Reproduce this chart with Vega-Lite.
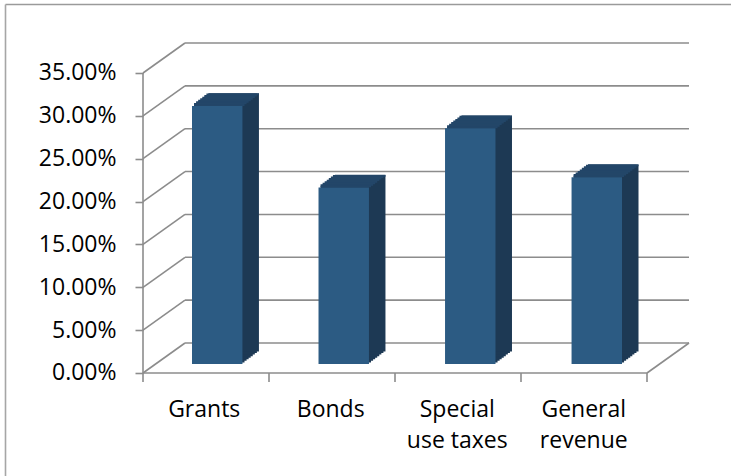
{
  "$schema": "https://vega.github.io/schema/vega-lite/v6.json",
  "width": 726,
  "height": 472,
  "autosize": {"type": "none"},
  "padding": {"left": 5, "top": 4, "right": 0, "bottom": 0},
  "background": "#ffffff",
  "config": {"view": {"stroke": null}, "font": "Open Sans"},
  "datasets": {
    "shares": [
      {"category": "Grants", "value": 0.301},
      {"category": "Bonds", "value": 0.206},
      {"category": "Special use taxes", "value": 0.275},
      {"category": "General revenue", "value": 0.218}
    ],
    "levels": [{"v": 0}, {"v": 0.05}, {"v": 0.1}, {"v": 0.15}, {"v": 0.2}, {"v": 0.25}, {"v": 0.3}, {"v": 0.35}],
    "bounds": [{"b": 0}, {"b": 1}, {"b": 2}, {"b": 3}, {"b": 4}],
    "single": [{"one": 1}]
  },
  "layer": [
    {
      "layer": [
        {
          "data": {"name": "levels"},
          "mark": {"type": "rule", "color": "#8c8c8c", "strokeWidth": 1.6, "xOffset": 42, "x2Offset": 42, "yOffset": -30},
          "encoding": {
            "x": {"datum": 0, "type": "quantitative", "scale": {"domain": [-1.09524, 4.66667], "nice": false, "zero": false}, "axis": {"orient": "top", "offset": 0, "domain": true, "domainColor": "#9a9a9a", "domainWidth": 1.6, "ticks": false, "labels": false, "grid": false, "title": null}},
            "x2": {"datum": 4},
            "y": {"field": "v", "type": "quantitative", "scale": {"domain": [-0.12017, 0.4305], "nice": false, "zero": false}, "axis": {"orient": "left", "offset": 0, "domain": true, "domainColor": "#a6a6a6", "domainWidth": 1.6, "ticks": false, "labels": false, "grid": false, "title": null}}
          }
        },
        {
          "data": {"name": "levels"},
          "mark": {"type": "rule", "color": "#8c8c8c", "strokeWidth": 1.6, "x2Offset": 42, "y2Offset": -30},
          "encoding": {
            "x": {"datum": 0, "type": "quantitative", "scale": {"domain": [-1.09524, 4.66667], "nice": false, "zero": false}, "axis": {"orient": "top", "offset": 0, "domain": true, "domainColor": "#9a9a9a", "domainWidth": 1.6, "ticks": false, "labels": false, "grid": false, "title": null}},
            "x2": {"datum": 0},
            "y": {"field": "v", "type": "quantitative", "scale": {"domain": [-0.12017, 0.4305], "nice": false, "zero": false}, "axis": {"orient": "left", "offset": 0, "domain": true, "domainColor": "#a6a6a6", "domainWidth": 1.6, "ticks": false, "labels": false, "grid": false, "title": null}},
            "y2": {"field": "v"}
          }
        },
        {
          "data": {"name": "single"},
          "mark": {"type": "rule", "color": "#8c8c8c", "strokeWidth": 1.6},
          "encoding": {
            "x": {"datum": 0, "type": "quantitative", "scale": {"domain": [-1.09524, 4.66667], "nice": false, "zero": false}, "axis": {"orient": "top", "offset": 0, "domain": true, "domainColor": "#9a9a9a", "domainWidth": 1.6, "ticks": false, "labels": false, "grid": false, "title": null}},
            "x2": {"datum": 4},
            "y": {"datum": 0, "type": "quantitative", "scale": {"domain": [-0.12017, 0.4305], "nice": false, "zero": false}, "axis": {"orient": "left", "offset": 0, "domain": true, "domainColor": "#a6a6a6", "domainWidth": 1.6, "ticks": false, "labels": false, "grid": false, "title": null}}
          }
        },
        {
          "data": {"name": "single"},
          "mark": {"type": "rule", "color": "#8c8c8c", "strokeWidth": 1.6, "x2Offset": 42, "y2Offset": -30},
          "encoding": {
            "x": {"datum": 4, "type": "quantitative", "scale": {"domain": [-1.09524, 4.66667], "nice": false, "zero": false}, "axis": {"orient": "top", "offset": 0, "domain": true, "domainColor": "#9a9a9a", "domainWidth": 1.6, "ticks": false, "labels": false, "grid": false, "title": null}},
            "x2": {"datum": 4},
            "y": {"datum": 0, "type": "quantitative", "scale": {"domain": [-0.12017, 0.4305], "nice": false, "zero": false}, "axis": {"orient": "left", "offset": 0, "domain": true, "domainColor": "#a6a6a6", "domainWidth": 1.6, "ticks": false, "labels": false, "grid": false, "title": null}},
            "y2": {"datum": 0}
          }
        },
        {
          "data": {"name": "single"},
          "mark": {"type": "rule", "color": "#8c8c8c", "strokeWidth": 1.6},
          "encoding": {
            "x": {"datum": 0, "type": "quantitative", "scale": {"domain": [-1.09524, 4.66667], "nice": false, "zero": false}, "axis": {"orient": "top", "offset": 0, "domain": true, "domainColor": "#9a9a9a", "domainWidth": 1.6, "ticks": false, "labels": false, "grid": false, "title": null}},
            "y": {"datum": 0, "type": "quantitative", "scale": {"domain": [-0.12017, 0.4305], "nice": false, "zero": false}, "axis": {"orient": "left", "offset": 0, "domain": true, "domainColor": "#a6a6a6", "domainWidth": 1.6, "ticks": false, "labels": false, "grid": false, "title": null}},
            "y2": {"datum": 0.35}
          }
        },
        {
          "data": {"name": "bounds"},
          "mark": {"type": "rule", "color": "#8c8c8c", "strokeWidth": 1.6, "y2Offset": 9},
          "encoding": {
            "x": {"field": "b", "type": "quantitative", "scale": {"domain": [-1.09524, 4.66667], "nice": false, "zero": false}, "axis": {"orient": "top", "offset": 0, "domain": true, "domainColor": "#9a9a9a", "domainWidth": 1.6, "ticks": false, "labels": false, "grid": false, "title": null}},
            "y": {"datum": 0, "type": "quantitative", "scale": {"domain": [-0.12017, 0.4305], "nice": false, "zero": false}, "axis": {"orient": "left", "offset": 0, "domain": true, "domainColor": "#a6a6a6", "domainWidth": 1.6, "ticks": false, "labels": false, "grid": false, "title": null}},
            "y2": {"datum": 0}
          }
        }
      ]
    },
    {
      "data": {"name": "shares"},
      "encoding": {
        "x": {"field": "category", "type": "nominal", "sort": null, "scale": {"type": "band", "range": [187, 617], "paddingInner": 0.6013, "paddingOuter": 0}, "axis": {"orient": "bottom", "offset": -103, "domain": false, "ticks": false, "grid": false, "title": null, "labelAngle": 0, "labelOffset": -13, "labelPadding": 25, "labelFont": "Open Sans", "labelFontSize": 23, "labelColor": "#000000", "labelLineHeight": 31, "labelBaseline": "top", "labelExpr": "indexof(datum.label, ' ') > 0 ? [substring(datum.label, 0, indexof(datum.label, ' ')), substring(datum.label, indexof(datum.label, ' ') + 1)] : datum.label"}},
        "y": {"field": "value", "type": "quantitative", "scale": {"domain": [-0.12017, 0.4305], "nice": false, "zero": false}, "axis": {"orient": "left", "offset": -138, "values": [0, 0.05, 0.1, 0.15, 0.2, 0.25, 0.3, 0.35], "format": ".2%", "tickSize": 8, "tickColor": "#8c8c8c", "tickWidth": 1.6, "domain": false, "grid": false, "title": null, "labelFont": "Open Sans", "labelFontSize": 23, "labelColor": "#000000", "labelPadding": 19}}
      },
      "layer": [
        {"mark": {"type": "bar", "color": "#1d3954", "xOffset": 2.0625, "yOffset": -10.5625, "y2Offset": -10.5625}, "encoding": {"y2": {"datum": 0}}},
        {"mark": {"type": "bar", "color": "#1d3954", "xOffset": 4.125, "yOffset": -12.125, "y2Offset": -12.125}, "encoding": {"y2": {"datum": 0}}},
        {"mark": {"type": "bar", "color": "#1d3954", "xOffset": 6.1875, "yOffset": -13.6875, "y2Offset": -13.6875}, "encoding": {"y2": {"datum": 0}}},
        {"mark": {"type": "bar", "color": "#1d3954", "xOffset": 8.25, "yOffset": -15.25, "y2Offset": -15.25}, "encoding": {"y2": {"datum": 0}}},
        {"mark": {"type": "bar", "color": "#1d3954", "xOffset": 10.3125, "yOffset": -16.8125, "y2Offset": -16.8125}, "encoding": {"y2": {"datum": 0}}},
        {"mark": {"type": "bar", "color": "#1d3954", "xOffset": 12.375, "yOffset": -18.375, "y2Offset": -18.375}, "encoding": {"y2": {"datum": 0}}},
        {"mark": {"type": "bar", "color": "#1d3954", "xOffset": 14.4375, "yOffset": -19.9375, "y2Offset": -19.9375}, "encoding": {"y2": {"datum": 0}}},
        {"mark": {"type": "bar", "color": "#1d3954", "xOffset": 16.5, "yOffset": -21.5, "y2Offset": -21.5}, "encoding": {"y2": {"datum": 0}}},
        {"mark": {"type": "tick", "color": "#234668", "size": 50.5, "thickness": 3, "opacity": 1, "xOffset": 2.0625, "yOffset": -10.5625}},
        {"mark": {"type": "tick", "color": "#234668", "size": 50.5, "thickness": 3, "opacity": 1, "xOffset": 4.125, "yOffset": -12.125}},
        {"mark": {"type": "tick", "color": "#234668", "size": 50.5, "thickness": 3, "opacity": 1, "xOffset": 6.1875, "yOffset": -13.6875}},
        {"mark": {"type": "tick", "color": "#234668", "size": 50.5, "thickness": 3, "opacity": 1, "xOffset": 8.25, "yOffset": -15.25}},
        {"mark": {"type": "tick", "color": "#234668", "size": 50.5, "thickness": 3, "opacity": 1, "xOffset": 10.3125, "yOffset": -16.8125}},
        {"mark": {"type": "tick", "color": "#234668", "size": 50.5, "thickness": 3, "opacity": 1, "xOffset": 12.375, "yOffset": -18.375}},
        {"mark": {"type": "tick", "color": "#234668", "size": 50.5, "thickness": 3, "opacity": 1, "xOffset": 14.4375, "yOffset": -19.9375}},
        {"mark": {"type": "tick", "color": "#234668", "size": 50.5, "thickness": 2, "opacity": 1, "xOffset": 16.5, "yOffset": -20.8}},
        {"mark": {"type": "bar", "color": "#2c5b83", "yOffset": -9, "y2Offset": -9}, "encoding": {"y2": {"datum": 0}}}
      ]
    }
  ],
  "resolve": {"scale": {"x": "independent", "y": "independent"}, "axis": {"x": "independent", "y": "independent"}}
}
